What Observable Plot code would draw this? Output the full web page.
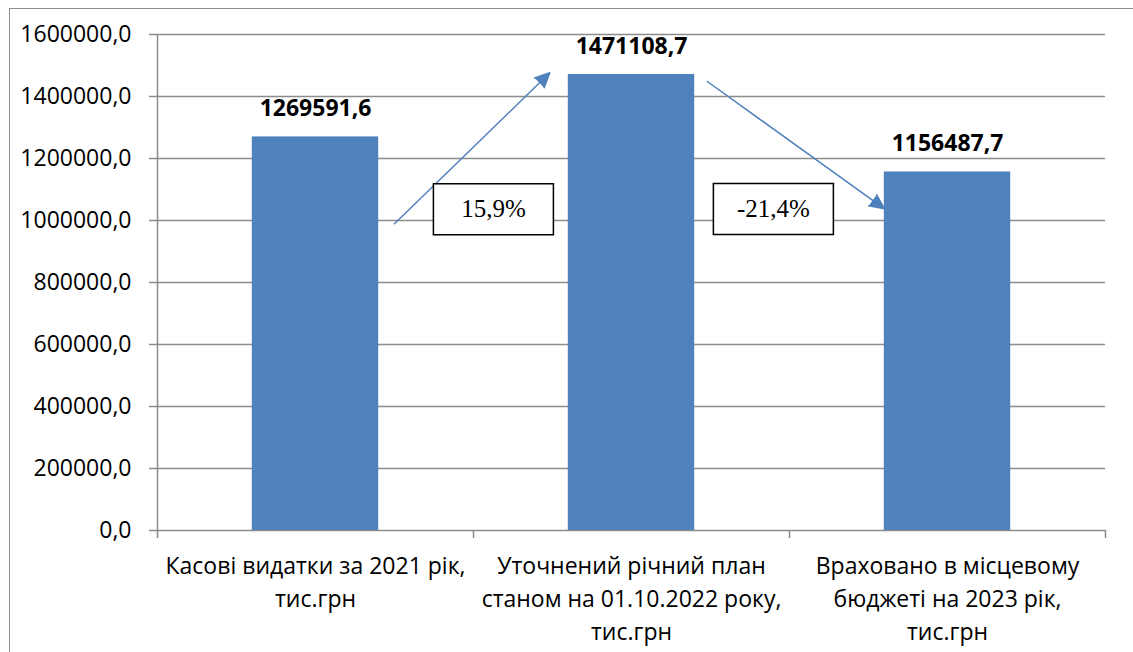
<!DOCTYPE html>
<html><head><meta charset="utf-8">
<script src="https://cdn.jsdelivr.net/npm/d3@7"></script>
<script src="https://cdn.jsdelivr.net/npm/@observablehq/plot@0.6"></script>
<style>
body{margin:0;background:#fff;}
#frame{position:absolute;left:9px;top:8px;width:1130px;height:650px;border-left:1.5px solid #8f8f8f;border-top:1.5px solid #8f8f8f;}
#chart{position:absolute;left:0;top:0;}
</style></head><body><div id="frame"></div><div id="chart"></div>
<script>
// categories (x positions are category index; band spans i..i+1)
const categories = [
  "Касові видатки за 2021 рік,\nтис.грн",
  "Уточнений річний план\nстаном на 01.10.2022 року,\nтис.грн",
  "Враховано в місцевому\nбюджеті на 2023 рік,\nтис.грн"
];
const values = [1269591.6, 1471108.7, 1156487.7];
const valueLabels = ["1269591,6", "1471108,7", "1156487,7"];
const yTicks = [0, 200000, 400000, 600000, 800000, 1000000, 1200000, 1400000, 1600000];
// change annotations (boxes), positions in data space
const changeLabels = ["15,9%", "-21,4%"];
const changeX = [1.063, 1.949];
const changeY = [1036500, 1037000];
// arrows in data space
const arrowX1 = [0.75, 1.740];
const arrowY1 = [989400, 1448400];
const arrowX2 = [1.2415, 2.3006];
const arrowY2 = [1476500, 1037700];

const barHalf = 0.2; // bar width as fraction of category band
const bars = categories.map((c, i) => ({i, c, v: values[i], label: valueLabels[i]}));
const changes = changeLabels.map((t, k) => ({t, x: changeX[k], y: changeY[k]}));
const arrows = arrowX1.map((x1, k) => ({x1, y1: arrowY1[k], x2: arrowX2[k], y2: arrowY2[k]}));
const fmt = d => d3.format(".1f")(d).replace(".", ",");

const W = 1133, H = 652, mT = 34, mB = 122, mL = 157, mR = 28;
const frameH = H - mT - mB;
const boxSymbol = {draw(ctx) { ctx.rect(-60, -25.5, 120, 51); }};
const grid = "#8c8c8c";
const blue = "#4f81bd";

const chart = Plot.plot({
  width: W, height: H,
  marginTop: mT, marginBottom: mB, marginLeft: mL, marginRight: mR,
  style: {fontFamily: "'Open Sans', sans-serif", fontSize: "23px", color: "black", background: "transparent"},
  x: {domain: [0, categories.length], axis: null},
  y: {domain: [0, 1600000], axis: null},
  marks: [
    Plot.ruleY(yTicks, {stroke: grid, strokeWidth: 1.5}),
    Plot.ruleX([0], {stroke: grid, strokeWidth: 1.5, insetBottom: -8}),
    Plot.ruleX(d3.range(1, categories.length + 1), {stroke: grid, strokeWidth: 1.5, insetTop: frameH, insetBottom: -8}),
    Plot.axisY({ticks: yTicks, tickFormat: fmt, tickSize: 8, tickPadding: 18, stroke: grid, strokeWidth: 1.5, fill: "black", fontSize: 23, label: null}),
    Plot.rectY(bars, {x1: d => d.i + 0.5 - barHalf, x2: d => d.i + 0.5 + barHalf, y: "v", fill: blue}),
    Plot.text(bars, {x: d => d.i + 0.5, y: "v", text: "label", dy: -28, fontWeight: "bold", fontSize: 23, fill: "black"}),
    Plot.text(bars, {x: d => d.i + 0.5, y: 0, text: "c", lineAnchor: "top", dy: 20, lineHeight: 1.44, fontSize: 23, fill: "black"}),
    Plot.arrow(arrows, {x1: "x1", y1: "y1", x2: "x2", y2: "y2", stroke: blue, fill: blue, strokeWidth: 1.5, headLength: 16, headAngle: 50}),
    Plot.dot(changes, {x: "x", y: "y", symbol: boxSymbol, r: 5, fill: "white", stroke: "black", strokeWidth: 1.5}),
    Plot.text(changes, {x: "x", y: "y", text: "t", fontFamily: "'Liberation Serif', serif", fontSize: 25, fill: "black"})
  ]
});
document.getElementById("chart").append(chart);
</script></body></html>
